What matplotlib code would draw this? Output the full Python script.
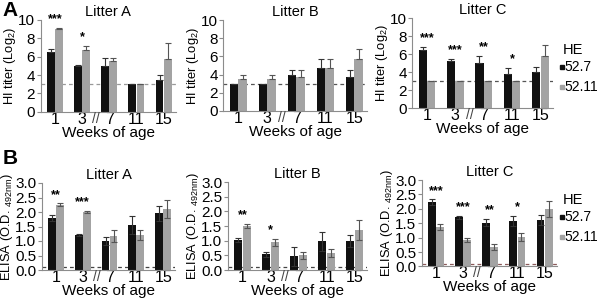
import numpy as np
import matplotlib.pyplot as plt
from matplotlib.lines import Line2D

plt.rcParams['font.family'] = ['Liberation Sans', 'DejaVu Sans']
plt.rcParams['mathtext.fontset'] = 'custom'
plt.rcParams['mathtext.rm'] = 'Liberation Sans'

weeks = ['1', '3', '7', '11', '15']

# HI titer (Log2)
hi_a_52_7 = [6.5, 5.0, 5.0, 3.0, 3.5]
hi_a_52_7_err = [0.3, 0.05, 0.8, 0.0, 0.5]
hi_a_52_11 = [9.0, 6.75, 5.5, 3.0, 5.75]
hi_a_52_11_err = [0.1, 0.45, 0.3, 0.0, 1.7]
hi_a_stars = ['***', '*', '', '', '']

hi_b_52_7 = [3.0, 3.0, 4.0, 4.75, 3.75]
hi_b_52_7_err = [0.0, 0.0, 0.5, 1.0, 0.75]
hi_b_52_11 = [3.5, 3.5, 3.75, 4.75, 5.75]
hi_b_52_11_err = [0.5, 0.5, 0.75, 1.0, 1.1]
hi_b_stars = ['', '', '', '', '']

hi_c_52_7 = [6.5, 5.25, 5.0, 3.75, 4.0]
hi_c_52_7_err = [0.3, 0.25, 0.8, 0.75, 0.6]
hi_c_52_11 = [3.0, 3.0, 3.0, 3.0, 5.75]
hi_c_52_11_err = [0.0, 0.0, 0.0, 0.0, 1.25]
hi_c_stars = ['***', '***', '**', '*', '']

# ELISA (O.D. 492nm)
el_a_52_7 = [1.8, 1.2, 1.0, 1.55, 1.95]
el_a_52_7_err = [0.1, 0.03, 0.15, 0.3, 0.25]
el_a_52_11 = [2.25, 2.0, 1.17, 1.2, 2.1]
el_a_52_11_err = [0.05, 0.03, 0.2, 0.17, 0.3]
el_a_stars = ['**', '***', '', '', '']

el_b_52_7 = [1.02, 0.53, 0.47, 0.98, 1.0]
el_b_52_7_err = [0.08, 0.07, 0.32, 0.32, 0.2]
el_b_52_11 = [1.5, 0.95, 0.5, 0.58, 1.37]
el_b_52_11_err = [0.08, 0.12, 0.13, 0.15, 0.33]
el_b_stars = ['**', '*', '', '', '']

el_c_52_7 = [2.23, 1.7, 1.52, 1.58, 1.62]
el_c_52_7_err = [0.1, 0.05, 0.13, 0.18, 0.18]
el_c_52_11 = [1.37, 0.9, 0.67, 1.02, 1.98]
el_c_52_11_err = [0.1, 0.07, 0.1, 0.13, 0.28]
el_c_stars = ['***', '***', '**', '*', '']

black = '#111111'
gray = '#a3a3a3'
spine = '#8c8c8c'

fig = plt.figure(figsize=(6, 3), dpi=100)


def panel(rect, title, b, be, g, ge, stars, ymax, yticks, fmt, cutoff, ylabel, two_sided, dash_col):
    ax = fig.add_axes(rect)
    x = np.arange(len(weeks))
    w = 0.29
    if two_sided:
        eb, eg = be, ge
    else:
        eb = [np.zeros(len(be)), be]
        eg = [np.zeros(len(ge)), ge]
    ax.bar(x - 0.15, b, w, color=black, yerr=eb,
           error_kw=dict(ecolor='#333333', elinewidth=0.8, capsize=2, capthick=0.8))
    ax.bar(x + 0.15, g, w, color=gray, yerr=eg,
           error_kw=dict(ecolor='#555555', elinewidth=0.8, capsize=2, capthick=0.8))
    ax.axhline(cutoff, color=dash_col, ls='--', lw=0.9, dashes=(3, 2.5), zorder=0.5)
    for i, s in enumerate(stars):
        if s:
            top = max(b[i] + be[i], g[i] + ge[i])
            ax.text(x[i], top + ymax * 0.03, s, ha='center', va='bottom', fontsize=9,
                    fontweight='bold', clip_on=False)
    ax.set_xlim(-0.52, 4.45)
    ax.set_ylim(0, ymax)
    ax.set_yticks(yticks)
    ax.set_yticklabels([fmt.format(v) for v in yticks], fontsize=11)
    ax.set_xticks(x)
    ax.set_xticklabels(weeks, fontsize=11.5)
    ax.tick_params(axis='x', length=0, pad=0)
    ax.tick_params(axis='y', length=3, pad=1, color=spine)
    for sp in ['top', 'right']:
        ax.spines[sp].set_visible(False)
    for sp in ['left', 'bottom']:
        ax.spines[sp].set_color(spine)
        ax.spines[sp].set_linewidth(0.8)
    ax.text(1.52, 0, '//', transform=ax.get_xaxis_transform(), ha='center', va='top',
            fontsize=10, color='#444444', clip_on=False)
    ax.set_title(title, fontsize=10.5, pad=3)
    ax.set_xlabel('Weeks of age', fontsize=11, labelpad=-1)
    ax.set_ylabel(ylabel, fontsize=9.3, labelpad=0)
    return ax


hi_ticks = [0, 2, 4, 6, 8, 10]
el_ticks = [0.0, 0.5, 1.0, 1.5, 2.0, 2.5, 3.0]
hi_lab = r'HI titer (Log$_\mathrm{2}$)'
el_lab = r'ELISA (O.D. $_\mathrm{492nm}$)'

panel([0.068, 0.627, 0.225, 0.307], 'Litter A', hi_a_52_7, hi_a_52_7_err, hi_a_52_11, hi_a_52_11_err,
      hi_a_stars, 10, hi_ticks, '{:g}', 3, hi_lab, False, '#999999')
panel([0.372, 0.630, 0.240, 0.303], 'Litter B', hi_b_52_7, hi_b_52_7_err, hi_b_52_11, hi_b_52_11_err,
      hi_b_stars, 10, hi_ticks, '{:g}', 3, hi_lab, False, '#555555')
panel([0.687, 0.640, 0.235, 0.300], 'Litter C', hi_c_52_7, hi_c_52_7_err, hi_c_52_11, hi_c_52_11_err,
      hi_c_stars, 10, hi_ticks, '{:g}', 3, hi_lab, False, '#555555')

panel([0.070, 0.100, 0.222, 0.290], 'Litter A', el_a_52_7, el_a_52_7_err, el_a_52_11, el_a_52_11_err,
      el_a_stars, 3, el_ticks, '{:.1f}', 0.1, el_lab, True, '#444444')
panel([0.380, 0.100, 0.232, 0.293], 'Litter B', el_b_52_7, el_b_52_7_err, el_b_52_11, el_b_52_11_err,
      el_b_stars, 3, el_ticks, '{:.1f}', 0.1, el_lab, True, '#444444')
panel([0.703, 0.112, 0.225, 0.288], 'Litter C', el_c_52_7, el_c_52_7_err, el_c_52_11, el_c_52_11_err,
      el_c_stars, 3, el_ticks, '{:.1f}', 0.1, el_lab, True, '#8a5a5a')

fig.text(0.004, 0.998, 'A', fontsize=15, fontweight='bold', va='top')
fig.text(0.004, 0.502, 'B', fontsize=15, fontweight='bold', va='top')

# legends
for top in [1 - 50 / 300, 1 - 200 / 300]:
    fig.text(0.938, top, 'HE', fontsize=10.5, va='center')
    for k, (lab, col) in enumerate([('52.7', black), ('52.11', gray)]):
        yy = top - (0.058 + 0.066 * k)
        fig.add_artist(Line2D([0.936], [yy], marker='s', ms=3, color=col, ls='none',
                              transform=fig.transFigure))
        fig.text(0.941, yy, lab, fontsize=10, va='center')

fig.savefig('out.png', dpi=100)
